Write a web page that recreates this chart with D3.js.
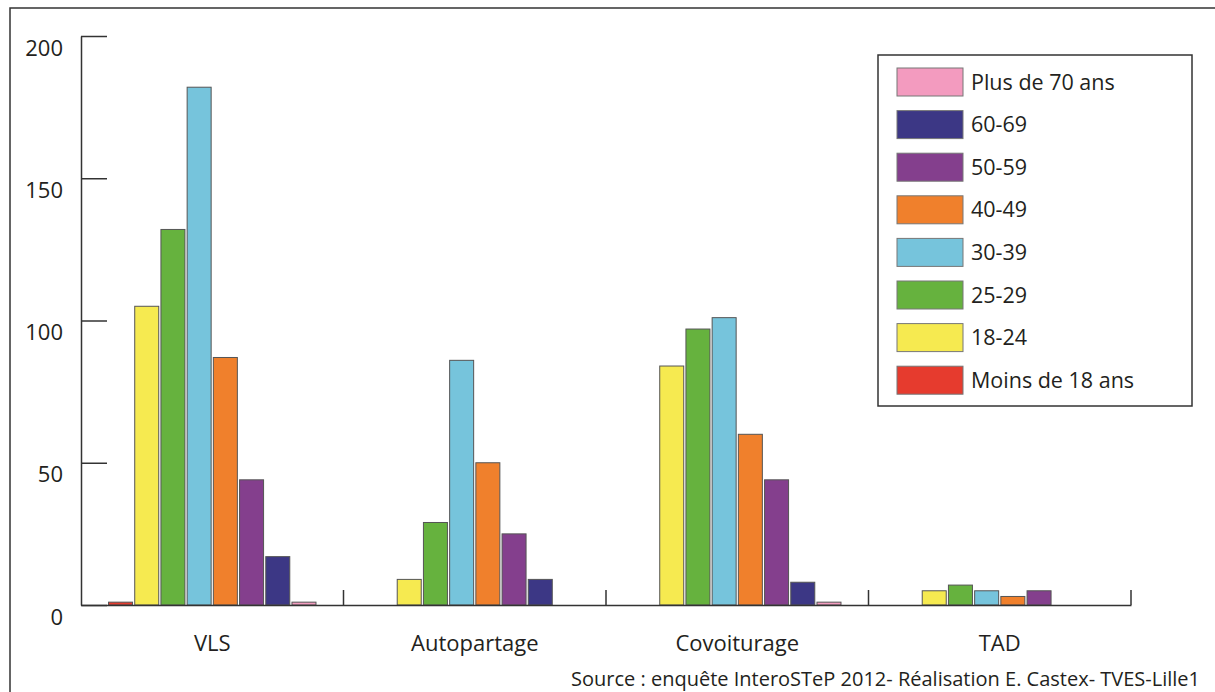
<!DOCTYPE html>
<html>
<head>
<meta charset="utf-8">
<script src="https://cdn.jsdelivr.net/npm/d3@7"></script>
<style>
  html, body { margin: 0; padding: 0; background: #ffffff; }
  svg { display: block; font-family: "Open Sans", "Noto Sans", sans-serif; }
</style>
</head>
<body>
<svg id="chart" width="1215" height="692"></svg>
<script>
// ---- Data ----
const categories = ["VLS", "Autopartage", "Covoiturage", "TAD"];
const seriesNames = ["Moins de 18 ans", "18-24", "25-29", "30-39", "40-49", "50-59", "60-69", "Plus de 70 ans"];
const seriesColors = ["#e63b2e", "#f6ea50", "#66b23e", "#76c4dc", "#f0802c", "#843f8d", "#3c3785", "#f39bbf"];
const moins18 = [1, 0, 0, 0];
const ans18_24 = [105, 9, 84, 5];
const ans25_29 = [132, 29, 97, 7];
const ans30_39 = [182, 86, 101, 5];
const ans40_49 = [87, 50, 60, 3];
const ans50_59 = [44, 25, 44, 5];
const ans60_69 = [17, 9, 8, 0];
const plus70 = [1, 0, 1, 0];
const yTicks = [0, 50, 100, 150, 200];
const sourceText = "Source : enquête InteroSTeP 2012- Réalisation E. Castex- TVES-Lille1";

const seriesValues = [moins18, ans18_24, ans25_29, ans30_39, ans40_49, ans50_59, ans60_69, plus70];

// ---- Layout ----
const svg = d3.select("#chart");
const textColor = "#231f20";
const lineColor = "#333333";

// outer frame
svg.append("rect")
  .attr("x", 10).attr("y", 8).attr("width", 1215).attr("height", 700)
  .attr("fill", "none").attr("stroke", lineColor).attr("stroke-width", 1.5);

const x0 = d3.scaleBand().domain(categories).range([81, 1131]).padding(0);
const x1 = d3.scaleBand().domain(seriesNames).range([0, x0.bandwidth()])
  .paddingInner(0.084).paddingOuter(1.05);
const y = d3.scaleLinear().domain([0, 200]).range([605, 36]);
const color = d3.scaleOrdinal().domain(seriesNames).range(seriesColors);

// bars
const rows = [];
seriesNames.forEach((s, si) => {
  categories.forEach((c, ci) => {
    const v = seriesValues[si][ci];
    if (v > 0) rows.push({ s, c, v });
  });
});

svg.append("g").selectAll("rect")
  .data(rows)
  .join("rect")
  .attr("x", d => x0(d.c) + x1(d.s))
  .attr("y", d => y(d.v))
  .attr("width", x1.bandwidth())
  .attr("height", d => y(0) - y(d.v))
  .attr("fill", d => color(d.s))
  .attr("stroke", "#555555")
  .attr("stroke-width", 1);

// y axis
const yAxis = svg.append("g")
  .attr("transform", "translate(81,0)")
  .call(d3.axisLeft(y).tickValues(yTicks).tickSizeInner(-26).tickSizeOuter(0).tickPadding(18));
yAxis.select(".domain").attr("stroke", lineColor).attr("stroke-width", 1.5);
yAxis.selectAll(".tick line").attr("stroke", lineColor).attr("stroke-width", 1.5);
yAxis.selectAll(".tick text")
  .attr("fill", textColor)
  .attr("font-size", 22)
  .attr("font-family", "\"Open Sans\", sans-serif")
  .attr("dy", "0.87em");

// x axis
const xAxis = svg.append("g")
  .attr("transform", "translate(0,605)")
  .call(d3.axisBottom(x0).tickSize(0).tickSizeOuter(0).tickPadding(30));
xAxis.select(".domain").attr("stroke", lineColor).attr("stroke-width", 1.5);
xAxis.selectAll(".tick text")
  .attr("fill", textColor)
  .attr("font-size", 22)
  .attr("font-family", "\"Open Sans\", sans-serif");

// group separator ticks
svg.append("g").selectAll("line")
  .data(categories)
  .join("line")
  .attr("x1", d => x0(d) + x0.bandwidth())
  .attr("x2", d => x0(d) + x0.bandwidth())
  .attr("y1", 590).attr("y2", 605)
  .attr("stroke", lineColor).attr("stroke-width", 1.5);

// legend
const legend = svg.append("g");
legend.append("rect")
  .attr("x", 878).attr("y", 55).attr("width", 314).attr("height", 351)
  .attr("fill", "#ffffff").attr("stroke", lineColor).attr("stroke-width", 1.5);
const legendOrder = seriesNames.slice().reverse();
const ly = d3.scalePoint().domain(legendOrder).range([68, 68 + 42.6 * 7]);
const items = legend.selectAll("g.item")
  .data(legendOrder)
  .join("g").attr("class", "item");
items.append("rect")
  .attr("x", 897).attr("y", d => ly(d))
  .attr("width", 66).attr("height", 28)
  .attr("fill", d => color(d))
  .attr("stroke", "#777777").attr("stroke-width", 1);
items.append("text")
  .attr("x", 971).attr("y", d => ly(d) + 14)
  .attr("dy", "0.35em")
  .attr("font-size", 21.5)
  .attr("fill", textColor)
  .text(d => d);

// source
svg.append("text")
  .attr("x", 1200).attr("y", 686)
  .attr("text-anchor", "end")
  .attr("font-size", 20)
  .attr("fill", textColor)
  .text(sourceText);
</script>
</body>
</html>
